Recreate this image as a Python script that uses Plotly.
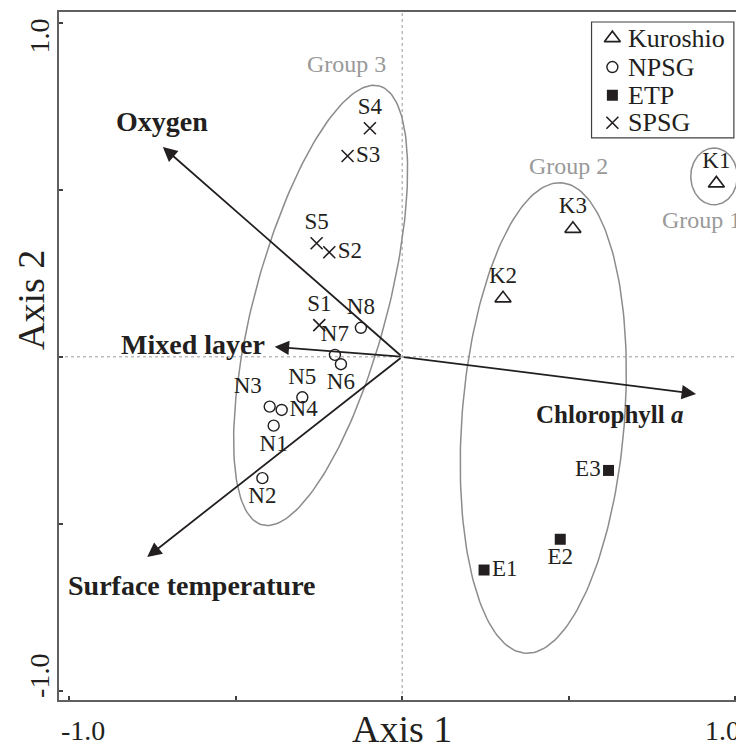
import numpy as np
import plotly.graph_objects as go

# ---------------- data ----------------
kuro_names = ["K1", "K2", "K3"]
kuro_x = [0.944, 0.303, 0.513]
kuro_y = [0.519, 0.175, 0.383]

npsg_names = ["N1", "N2", "N3", "N4", "N5", "N6", "N7", "N8"]
npsg_x = [-0.386, -0.420, -0.398, -0.362, -0.300, -0.184, -0.202, -0.124]
npsg_y = [-0.206, -0.363, -0.149, -0.159, -0.121, -0.022, 0.006, 0.087]

etp_names = ["E1", "E2", "E3"]
etp_x = [0.246, 0.475, 0.620]
etp_y = [-0.638, -0.546, -0.340]

spsg_names = ["S1", "S2", "S3", "S4", "S5"]
spsg_x = [-0.249, -0.219, -0.164, -0.097, -0.257]
spsg_y = [0.095, 0.313, 0.601, 0.684, 0.340]

env_names = ["Oxygen", "Mixed layer", "Chlorophyll <i>a</i>", "Surface temperature"]
env_x = [-0.719, -0.383, 0.883, -0.766]
env_y = [0.628, 0.030, -0.111, -0.599]

legend_names = ["Kuroshio", "NPSG", "ETP", "SPSG"]
tick_vals = [-1.0, -0.5, 0.0, 0.5, 1.0]

# ---------------- style ----------------
INK = "#231f20"
GREY = "#8c8c8c"
SERIF = "Liberation Serif, Times New Roman, serif"

marker_styles = {
    "Kuroshio": dict(symbol="triangle-up-open", size=14, color=INK, line=dict(width=1.6, color=INK)),
    "NPSG": dict(symbol="circle-open", size=11, color=INK, line=dict(width=1.4, color=INK)),
    "ETP": dict(symbol="square", size=11, color=INK, line=dict(width=0)),
    "SPSG": dict(symbol="x-thin-open", size=12, color=INK, line=dict(width=1.6, color=INK)),
}

fig = go.Figure()

# group ellipses (outline shapes)
def ellipse(cx, cy, a, b, ang_deg, n=200):
    t = np.linspace(0, 2 * np.pi, n)
    phi = np.deg2rad(ang_deg)
    ex = cx + a * np.cos(t) * np.cos(phi) - b * np.sin(t) * np.sin(phi)
    ey = cy + a * np.cos(t) * np.sin(phi) + b * np.sin(t) * np.cos(phi)
    return ex, ey

for (cx, cy, a, b, ang) in [(-0.245, 0.154, 0.680, 0.200, 75.0),
                            (0.424, -0.183, 0.706, 0.244, 85.5),
                            (0.937, 0.540, 0.085, 0.070, 90.0)]:
    ex, ey = ellipse(cx, cy, a, b, ang)
    fig.add_trace(go.Scatter(x=ex, y=ey, mode="lines",
                             line=dict(color=GREY, width=1.5),
                             hoverinfo="skip", showlegend=False))

lab_font = dict(family=SERIF, size=23, color=INK)

fig.add_trace(go.Scatter(
    x=kuro_x, y=kuro_y, text=kuro_names, name="Kuroshio", showlegend=False,
    mode="markers+text", textposition=["top center"] * 3, textfont=lab_font,
    marker=marker_styles["Kuroshio"]))

fig.add_trace(go.Scatter(
    x=npsg_x, y=npsg_y, text=npsg_names, name="NPSG", showlegend=False,
    mode="markers+text",
    textposition=["bottom center", "bottom center", "top left", "middle right",
                   "top center", "bottom center", "top center", "top center"],
    textfont=lab_font, marker=marker_styles["NPSG"]))

fig.add_trace(go.Scatter(
    x=etp_x, y=etp_y, text=etp_names, name="ETP", showlegend=False,
    mode="markers+text",
    textposition=["middle right", "bottom center", "middle left"],
    textfont=lab_font, marker=marker_styles["ETP"]))

fig.add_trace(go.Scatter(
    x=spsg_x, y=spsg_y, text=spsg_names, name="SPSG", showlegend=False,
    mode="markers+text",
    textposition=["top center", "middle right", "middle right", "top center", "top center"],
    textfont=lab_font, marker=marker_styles["SPSG"]))

# ---- legend box (drawn on an overlay axis spanning the plot area, 0..1) ----
leg_sym_x = 0.8126
leg_text_x = 0.833
leg_rows = [0.962, 0.920, 0.879, 0.839]
for nm, ry in zip(legend_names, leg_rows):
    fig.add_trace(go.Scatter(x=[leg_sym_x], y=[ry], mode="markers", xaxis="x2", yaxis="y2",
                             marker=marker_styles[nm], showlegend=False, hoverinfo="skip"))

annotations = []
for nm, ry in zip(legend_names, leg_rows):
    annotations.append(dict(x=leg_text_x, y=ry, xref="paper", yref="paper", text=nm,
                            showarrow=False, xanchor="left", yanchor="middle",
                            font=dict(family=SERIF, size=26, color=INK)))

# environmental arrows from origin
for ex_, ey_ in zip(env_x, env_y):
    annotations.append(dict(x=ex_, y=ey_, ax=0, ay=0, xref="x", yref="y",
                            axref="x", ayref="y", text="", showarrow=True,
                            arrowhead=2, arrowsize=1.6, arrowwidth=1.8,
                            arrowcolor=INK))

# arrow labels: (xshift, yshift, xanchor, size)
lab_offsets = [(-1, 25, "center", 28), (-8, 2, "right", 28),
               (-86, -21, "center", 25), (45, -29, "center", 28)]
for name, ex_, ey_, (dx, dy, xa, fs) in zip(env_names, env_x, env_y, lab_offsets):
    annotations.append(dict(x=ex_, y=ey_, xref="x", yref="y", text="<b>" + name + "</b>",
                            showarrow=False, xshift=dx, yshift=dy, xanchor=xa,
                            yanchor="middle",
                            font=dict(family=SERIF, size=fs, color=INK)))

# group labels
for txt, gx, gy in [("Group 3", -0.168, 0.875), ("Group 2", 0.50, 0.571), ("Group 1", 0.898, 0.41)]:
    annotations.append(dict(x=gx, y=gy, xref="x", yref="y", text=txt, showarrow=False,
                            font=dict(family=SERIF, size=24, color="#999999")))

# tick labels (drawn slightly inside the end ticks, as in the reference)
tick_font = dict(family=SERIF, size=28, color=INK)
annotations += [
    dict(x=tick_vals[0], y=-0.045, xref="x", yref="paper", text="-1.0", showarrow=False,
         xshift=14, font=tick_font, yanchor="middle"),
    dict(x=tick_vals[-1], y=-0.045, xref="x", yref="paper", text="1.0", showarrow=False,
         xshift=-13, font=tick_font, yanchor="middle"),
    dict(x=-0.028, y=tick_vals[-1], xref="paper", yref="y", text="1.0", showarrow=False,
         yshift=-13, textangle=-90, font=tick_font, xanchor="center"),
    dict(x=-0.028, y=tick_vals[0], xref="paper", yref="y", text="-1.0", showarrow=False,
         yshift=15, textangle=-90, font=tick_font, xanchor="center"),
]
# axis titles (kept fully inside the figure)
title_font = dict(family=SERIF, size=38, color=INK)
annotations += [
    dict(x=0.0, y=-0.0735, xref="x", yref="paper", text="Axis 1", showarrow=False,
         font=title_font, yanchor="bottom", borderpad=0),
    dict(x=-0.0735, y=0.17, xref="paper", yref="y", text="Axis 2", showarrow=False,
         textangle=-90, font=title_font, xanchor="left", borderpad=0),
]

shapes = [
    dict(type="line", xref="x", yref="paper", x0=0, x1=0, y0=0, y1=1,
         line=dict(color="#9a9a9a", width=1, dash="dot"), layer="below"),
    dict(type="line", xref="paper", yref="y", x0=0, x1=1, y0=0, y1=0,
         line=dict(color="#9a9a9a", width=1, dash="dot"), layer="below"),
    dict(type="rect", xref="paper", yref="paper", x0=0.782, x1=0.991, y0=0.817, y1=0.9855,
         line=dict(color="#404040", width=1.2), fillcolor="white", layer="below"),
]

axis_common = dict(showgrid=False, zeroline=False, showline=True, mirror=True,
                   linecolor="#606060", linewidth=2, ticks="inside", ticklen=4,
                   tickcolor="#404040", tickwidth=1.5, tickvals=tick_vals,
                   showticklabels=False)

fig.update_layout(
    width=736, height=743,
    margin=dict(l=51, r=2, t=4, b=51),
    paper_bgcolor="white", plot_bgcolor="white",
    xaxis=dict(range=[-1.031, 1.015], **axis_common),
    yaxis=dict(range=[-1.027, 1.032], **axis_common),
    xaxis2=dict(overlaying="x", range=[0, 1], visible=False, fixedrange=True),
    yaxis2=dict(overlaying="y", range=[0, 1], visible=False, fixedrange=True),
    showlegend=False,
    annotations=annotations,
    shapes=shapes,
)

fig.write_html("out.html")
